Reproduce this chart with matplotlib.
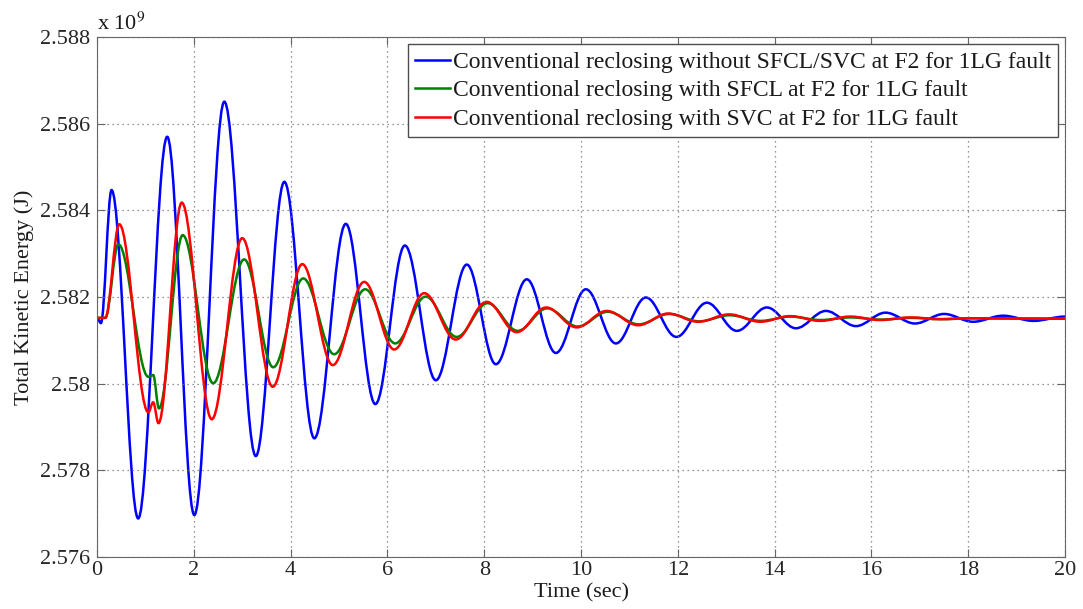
import numpy as np
import matplotlib
matplotlib.use("Agg")
import matplotlib.pyplot as plt
from matplotlib.path import Path
from matplotlib.patches import PathPatch
from matplotlib.lines import Line2D

plt.rcParams['font.family'] = ['Liberation Serif', 'DejaVu Serif']
plt.rcParams['mathtext.fontset'] = 'stix'

# turning points: time (sec), energy (x 1e9 J)
t_blue = [0, 0.08, 0.30, 0.85, 1.45, 2.01, 2.63, 3.28, 3.87, 4.49, 5.14, 5.75, 6.36, 7.00,
          7.64, 8.24, 8.88, 9.48, 10.10, 10.72, 11.34, 11.97, 12.60, 13.22, 13.84, 14.44,
          15.06, 15.68, 16.29, 16.90, 17.50, 18.10, 18.72, 19.35, 20.0]
e_blue = [2.58152, 2.58140, 2.58447, 2.57689, 2.58570, 2.57697, 2.58651, 2.57833, 2.58466,
          2.57874, 2.58369, 2.57953, 2.58319, 2.58008, 2.58275, 2.58045, 2.58241, 2.58071,
          2.58218, 2.58093, 2.58199, 2.58108, 2.58187, 2.58122, 2.58176, 2.58128, 2.58168,
          2.58133, 2.58164, 2.58139, 2.58161, 2.58143, 2.58157, 2.58145, 2.58155]

t_green = [0, 0.17, 0.44, 1.06, 1.16, 1.28, 1.77, 2.40, 3.04, 3.64, 4.26, 4.90, 5.54, 6.16,
           6.79, 7.43, 8.07, 8.69, 9.30, 9.93, 10.55, 11.19, 11.82, 12.44, 13.07, 13.71,
           14.33, 14.95, 15.57, 16.19, 16.81, 17.43, 18.05, 20.0]
e_green = [2.58152, 2.58152, 2.58322, 2.58016, 2.58020, 2.57943, 2.58343, 2.58001, 2.58287,
           2.58038, 2.58243, 2.58068, 2.58218, 2.58093, 2.58201, 2.58108, 2.58186, 2.58122,
           2.58174, 2.58132, 2.58166, 2.58137, 2.58161, 2.58144, 2.58158, 2.58145, 2.58155,
           2.58147, 2.58153, 2.58148, 2.58152, 2.58149, 2.58151, 2.58150]

t_red = [0, 0.17, 0.46, 1.06, 1.16, 1.27, 1.75, 2.37, 3.00, 3.63, 4.24, 4.87, 5.52, 6.14,
         6.76, 7.41, 8.05, 8.67, 9.28, 9.91, 10.53, 11.18, 11.80, 12.42, 13.06, 13.70,
         14.32, 14.94, 15.56, 16.18, 16.80, 17.42, 18.04, 20.0]
e_red = [2.58152, 2.58152, 2.58368, 2.57934, 2.57957, 2.57909, 2.58418, 2.57918, 2.58336,
         2.57993, 2.58276, 2.58043, 2.58235, 2.58079, 2.58209, 2.58102, 2.58189, 2.58119,
         2.58176, 2.58130, 2.58168, 2.58135, 2.58162, 2.58143, 2.58160, 2.58143, 2.58156,
         2.58145, 2.58155, 2.58147, 2.58153, 2.58149, 2.58151, 2.58150]

labels = ["Conventional reclosing without SFCL/SVC at F2 for 1LG fault",
          "Conventional reclosing with SFCL at F2 for 1LG fault",
          "Conventional reclosing with SVC at F2 for 1LG fault"]
colors = ["#0000ff", "#008000", "#ff0000"]
x_ticks = [0, 2, 4, 6, 8, 10, 12, 14, 16, 18, 20]
y_ticks = [2.576, 2.578, 2.580, 2.582, 2.584, 2.586, 2.588]


def smooth_path(t, e, k=0.36):
    # cubic bezier through turning points, flat tangent at each one
    verts = [(t[0], e[0])]
    codes = [Path.MOVETO]
    for i in range(len(t) - 1):
        dt = t[i + 1] - t[i]
        verts += [(t[i] + k * dt, e[i]), (t[i + 1] - k * dt, e[i + 1]), (t[i + 1], e[i + 1])]
        codes += [Path.CURVE4] * 3
    return Path(verts, codes)


fig = plt.figure(figsize=(10.83, 6.09), dpi=100)
ax = fig.add_axes([0.0896, 0.0854, 0.8938, 0.8536])

for t, e, c in zip([t_blue, t_green, t_red], [e_blue, e_green, e_red], colors):
    ax.add_patch(PathPatch(smooth_path(t, e), fill=False, edgecolor=c, lw=1.8))

ax.set_xlim(0, 20)
ax.set_ylim(2.576, 2.588)
ax.set_xticks(x_ticks)
ax.set_yticks(y_ticks)
ax.set_yticklabels(["%g" % v for v in y_ticks])
ax.tick_params(direction="in", top=True, right=True, labelsize=16, color="0.4",
               labelcolor="0.15", length=6)
ax.tick_params(axis="y", pad=5)
ax.tick_params(axis="x", pad=3)
for s in ax.spines.values():
    s.set_color("0.4")
ax.grid(True, linestyle=(0, (1, 3)), color="0.45", lw=0.9)

ax.set_xlabel("Time (sec)", fontsize=16, labelpad=2, color="0.1")
ax.set_ylabel("Total Kinetic Energy (J)", fontsize=16, labelpad=4, color="0.1")
ax.text(0.0, 1.005, r"x 10$^{9}$", transform=ax.transAxes, fontsize=16, va="bottom",
        ha="left", color="0.1")

handles = [Line2D([], [], color=c, lw=1.8) for c in colors]
leg = ax.legend(handles, labels, loc="upper right", fontsize=17, fancybox=False,
                framealpha=1, edgecolor="0.3", handlelength=1.5, handletextpad=0.1,
                borderaxespad=0.3, labelspacing=0.3, borderpad=0.3)
leg.get_frame().set_linewidth(1.0)
for txt in leg.get_texts():
    txt.set_color("0.1")

fig.savefig("out.png", dpi=100)
